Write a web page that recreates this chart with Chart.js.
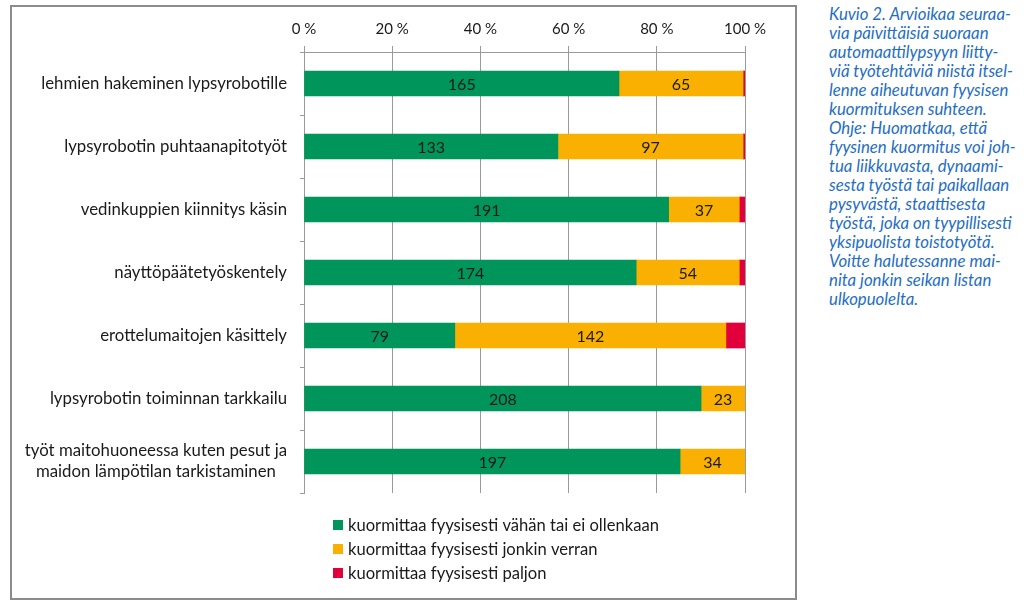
<!DOCTYPE html>
<html>
<head>
<meta charset="utf-8">
<script src="https://cdn.jsdelivr.net/npm/chart.js@4.4.1/dist/chart.umd.min.js"></script>
<style>
  html, body { margin: 0; padding: 0; background: #ffffff; }
  body { width: 1024px; height: 602px; position: relative; overflow: hidden; }
  #frame { position: absolute; left: 10px; top: 5px; width: 783px; height: 591px; border: 2px solid #8c8c8c; }
  #frame canvas { display: block; }
  #note { position: absolute; left: 829px; top: 4px; width: 195px;
          font-family: Lato, "Open Sans", sans-serif; font-style: italic; font-size: 16.8px;
          line-height: 19px; color: #1f6ec4; white-space: pre; }
</style>
</head>
<body>
<div id="frame"><canvas id="c" width="783" height="591"></canvas></div>
<div id="note"></div>
<script>
const categories = [
  "lehmien hakeminen lypsyrobotille",
  "lypsyrobotin puhtaanapitotyöt",
  "vedinkuppien kiinnitys käsin",
  "näyttöpäätetyöskentely",
  "erottelumaitojen käsittely",
  "lypsyrobotin toiminnan tarkkailu",
  ["työt maitohuoneessa kuten pesut ja", "maidon lämpötilan tarkistaminen"]
];
const seriesNames = [
  "kuormittaa fyysisesti vähän tai ei ollenkaan",
  "kuormittaa fyysisesti jonkin verran",
  "kuormittaa fyysisesti paljon"
];
const vahan  = [165, 133, 191, 174, 79, 208, 197];
const jonkin = [65, 97, 37, 54, 142, 23, 34];
const paljon = [1, 1, 3, 3, 10, 0, 0];
const xTicks = [0, 20, 40, 60, 80, 100];
const noteLines = [
  "Kuvio 2. Arvioikaa seuraa-",
  "via päivittäisiä suoraan",
  "automaattilypsyyn liitty-",
  "viä työtehtäviä niistä itsel-",
  "lenne aiheutuvan fyysisen",
  "kuormituksen suhteen.",
  "Ohje: Huomatkaa, että",
  "fyysinen kuormitus voi joh-",
  "tua liikkuvasta, dynaami-",
  "sesta työstä tai paikallaan",
  "pysyvästä, staattisesta",
  "työstä, joka on tyypillisesti",
  "yksipuolista toistotyötä.",
  "Voitte halutessanne mai-",
  "nita jonkin seikan listan",
  "ulkopuolelta."
];

document.getElementById('note').textContent = noteLines.join('\n');

const colors = ['#00955a', '#f9b000', '#e1003b'];
const counts = [vahan, jonkin, paljon];
const totals = categories.map((_, i) => vahan[i] + jonkin[i] + paljon[i]);
const pct = arr => arr.map((v, i) => v / totals[i] * 100);

const FONT = 'Lato, "Open Sans", sans-serif';

const labelPlugin = {
  id: 'labels',
  afterDatasetsDraw(chart) {
    const ctx = chart.ctx;
    ctx.save();
    ctx.font = '16px ' + FONT;
    ctx.fillStyle = '#1a1a1a';
    ctx.textAlign = 'center';
    ctx.textBaseline = 'middle';
    [0, 1].forEach(di => {
      const meta = chart.getDatasetMeta(di);
      meta.data.forEach((bar, i) => {
        const v = counts[di][i];
        if (!v) return;
        ctx.fillText(String(v), (bar.x + bar.base) / 2, bar.y + 1);
      });
    });
    // category labels
    const ys = chart.scales.y;
    const right = 275;
    ctx.font = '16.8px ' + FONT;
    categories.forEach((lab, i) => {
      const lines = Array.isArray(lab) ? lab : [lab];
      const maxW = Math.max(...lines.map(l => ctx.measureText(l).width));
      const cx = right - maxW / 2;
      const cy = ys.getPixelForValue(i);
      const lh = 21;
      lines.forEach((l, k) => {
        ctx.fillText(l, cx, cy + (k - (lines.length - 1) / 2) * lh);
      });
    });
    // legend
    ctx.textAlign = 'left';
    ctx.font = '16.6px ' + FONT;
    const ly = [518, 542, 566];
    seriesNames.forEach((name, k) => {
      ctx.fillStyle = colors[k];
      ctx.fillRect(321, ly[k] - 5, 10, 10);
      ctx.fillStyle = '#1a1a1a';
      ctx.fillText(name, 336, ly[k] + 1);
    });
    ctx.restore();
  }
};

new Chart(document.getElementById('c'), {
  type: 'bar',
  data: {
    labels: categories,
    datasets: seriesNames.map((name, k) => ({
      label: name,
      data: pct(counts[k]),
      backgroundColor: colors[k],
      borderWidth: 0,
      barThickness: 25
    }))
  },
  options: {
    indexAxis: 'y',
    responsive: false,
    animation: false,
    layout: { padding: { left: 0, right: 50, top: 0, bottom: 105 } },
    plugins: { legend: { display: false }, tooltip: { enabled: false } },
    scales: {
      x: {
        position: 'top',
        stacked: true,
        min: 0, max: 100,
        afterBuildTicks(scale) { scale.ticks = xTicks.map(v => ({ value: v })); },
        afterFit(scale) { scale.height = 45; },
        ticks: {
          callback: v => v + ' %',
          font: { family: FONT, size: 15 },
          color: '#1a1a1a',
          padding: 8,
          maxRotation: 0
        },
        grid: { color: '#9a9a9a', lineWidth: 1, tickLength: 6, drawTicks: true },
        border: { display: true, color: '#9a9a9a' }
      },
      y: {
        stacked: true,
        afterFit(scale) { scale.width = 292; },
        ticks: { display: false },
        grid: { drawOnChartArea: false, drawTicks: true, tickLength: 4, color: '#9a9a9a', offset: true },
        border: { display: true, color: '#9a9a9a' }
      }
    }
  },
  plugins: [labelPlugin]
});
</script>
</body>
</html>
